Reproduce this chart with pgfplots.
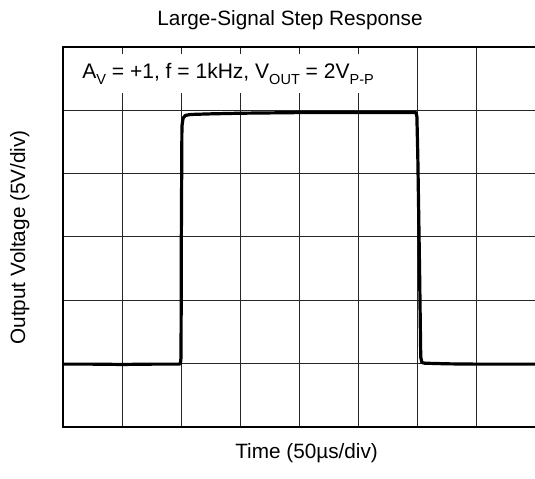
\documentclass[border=0pt]{standalone}
\usepackage{fontspec}
\setmainfont{Liberation Sans}
\usepackage{pgfplots}
\pgfplotsset{compat=1.18}
\newcommand\sub[1]{\raisebox{-0.28em}{\fontsize{14.5bp}{15bp}\selectfont #1}}
\begin{document}
\begin{tikzpicture}
\begin{axis}[
  scale only axis,
  width=472bp, height=379bp,
  xmin=0, xmax=8, ymin=0, ymax=6,
  xtick={0,...,8}, ytick={0,...,6},
  xticklabels={}, yticklabels={},
  major tick length=0pt,
  grid=major,
  major grid style={line width=1bp, black!85},
  axis line style={line width=2bp, black},
  clip=false,
]
\fill[white] (axis cs:0.04,5.28) rectangle (axis cs:5.63,5.89);
\addplot[line width=3.2bp, black, line join=round, mark=none] coordinates {
(0,0.99) (0.5,0.99) (1.0,0.985) (1.5,0.99) (1.96,0.99) (1.985,1.0)
(1.995,1.1) (2.0,3.0) (2.01,4.75) (2.03,4.88) (2.07,4.92) (2.15,4.935)
(2.5,4.945) (3.0,4.955) (3.5,4.96) (4.0,4.965) (4.5,4.965) (5.0,4.965)
(5.5,4.965) (5.97,4.965) (5.985,4.9) (6.0,4.3) (6.03,2.5) (6.05,1.1)
(6.07,1.015) (6.12,1.005) (6.5,0.995) (7.0,0.99) (7.5,0.99) (8.0,0.99)
};
\end{axis}
\node[anchor=base west, inner sep=0pt, font=\fontsize{21bp}{25bp}\selectfont] at (19bp,348bp)
  {A\sub{V} = +1, f = 1kHz, V\sub{OUT} = 2V\sub{P-P}};
\node[anchor=base, inner sep=0pt, font=\fontsize{20.7bp}{25bp}\selectfont] at (226.5bp,401bp) {Large-Signal Step Response};
\node[anchor=base, inner sep=0pt, font=\fontsize{20.7bp}{25bp}\selectfont] at (243bp,-32bp) {Time (50µs/div)};
\node[anchor=base, rotate=90, inner sep=0pt, font=\fontsize{20.7bp}{25bp}\selectfont] at (-38bp,189bp) {Output Voltage (5V/div)};
\pgfresetboundingbox
\path[use as bounding box] (-63bp,-52bp) rectangle (471bp,426bp);
\end{tikzpicture}
\end{document}
